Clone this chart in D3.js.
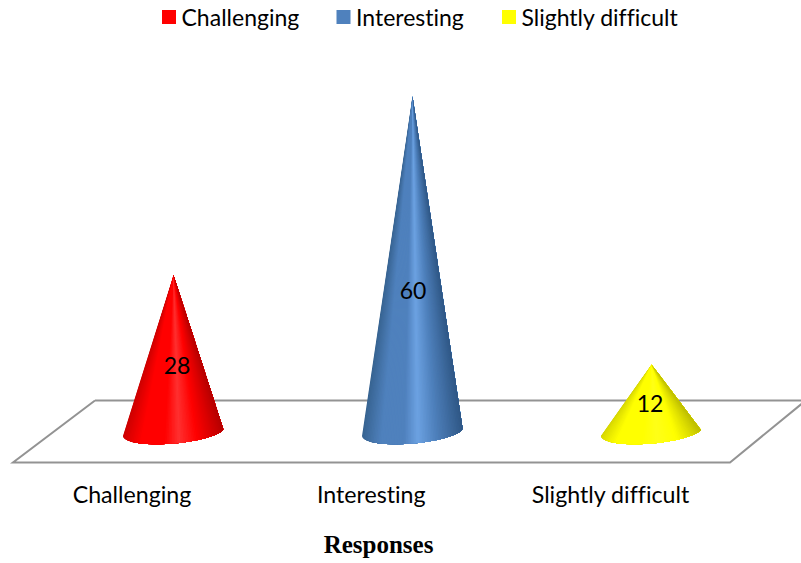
<!DOCTYPE html>
<html>
<head>
<meta charset="utf-8">
<script src="https://cdn.jsdelivr.net/npm/d3@7/dist/d3.min.js"></script>
<style>
  html, body { margin: 0; padding: 0; background: #fff; }
  svg { display: block; }
  text { font-family: Lato, "Open Sans", sans-serif; fill: #000; font-variant-ligatures: none; }
</style>
</head>
<body>
<svg id="chart" width="801" height="563"></svg>
<script>
// Survey responses shown as 3D-style cones on a tilted floor
const categories = ["Challenging", "Interesting", "Slightly difficult"];
const values = [28, 60, 12];
const baseColors = ["#ff0000", "#4f81bd", "#ffff00"];
const leftEdgeColors = ["#c80000", "#36628f", "#cfcf00"];
const rightEdgeColors = ["#b40000", "#2f5785", "#bcbc00"];
const shineColors = ["#ff3030", "#6ca2e2", "#ffff18"];
const axisTitle = "Responses";

const svg = d3.select("#chart");

// Scales: cones sit on one point scale, labels on a second one shifted along the floor
const x = d3.scalePoint().domain(categories).range([173.5, 651.5]);
const labelX = d3.scalePoint().domain(categories).range([131.5, 610]);
const y = d3.scaleLinear().domain([0, 60]).range([431.5, 96]);

const coneHalfWidth = 50.5;
const baseTilt = 4.5;      // vertical offset between base centre and its rim ends
const baseRy = 12;

// Floor parallelogram, back edge and side edge run past the canvas on the right
const floor = d3.path();
floor.moveTo(95, 400.5);
floor.lineTo(810, 400.5);
floor.moveTo(95, 400.5);
floor.lineTo(13, 462.5);
floor.lineTo(730, 462.5);
floor.lineTo(810, 397);
svg.append("path")
  .attr("d", floor.toString())
  .attr("fill", "none")
  .attr("stroke", "#939393")
  .attr("stroke-width", 2);

// Cone outline: apex, down to the left rim, round the tilted base, back to the apex
const conePath = (c, v) => {
  const cx = x(c);
  const cy = y(0);
  return `M${cx},${y(v)}` +
    `L${cx - coneHalfWidth},${cy + baseTilt}` +
    `A${coneHalfWidth},${baseRy} -5 0 0 ${cx + coneHalfWidth},${cy - baseTilt}Z`;
};

const defs = svg.append("defs");
categories.forEach((c, i) => {
  defs.append("clipPath").attr("id", "cone-clip-" + i)
    .append("path").attr("d", conePath(c, values[i]));
});

// Shading fans out from the apex, so dark sides follow the slanted edges.
// Each slice runs to the far side and is painted over by the next, leaving no seams.
const fanSlices = d3.range(64);
const shadeStops = [0, 0.2, 0.42, 0.55, 0.72, 1];
const cones = svg.append("g").selectAll("g")
  .data(categories)
  .join("g")
  .attr("clip-path", (c, i) => `url(#cone-clip-${i})`);

cones.each(function (c, i) {
  const shade = d3.scaleLinear()
    .domain(shadeStops)
    .range([leftEdgeColors[i], baseColors[i], baseColors[i], shineColors[i], baseColors[i], rightEdgeColors[i]])
    .interpolate(d3.interpolateRgb);
  const apexX = x(c);
  const apexY = y(values[i]);
  // Fan reaches below the base; the clip trims it to the cone
  const reach = (y(0) + 20 - apexY) / (y(0) - apexY);
  const rimX = d3.scaleLinear().domain([0, fanSlices.length])
    .range([apexX - coneHalfWidth * reach, apexX + coneHalfWidth * reach]);
  d3.select(this).selectAll("path")
    .data(fanSlices)
    .join("path")
    .attr("d", s => `M${apexX},${apexY}L${rimX(s)},${y(0) + 20}L${rimX(fanSlices.length)},${y(0) + 20}Z`)
    .attr("fill", s => shade((s + 0.5) / fanSlices.length));
});

// Value labels sit a little below the middle of each cone
const labelNudge = [3.5, 0.5, -1.5];
svg.append("g").selectAll("text")
  .data(categories)
  .join("text")
  .attr("x", (c, i) => x(c) + labelNudge[i])
  .attr("y", (c, i) => y(values[i] * 0.42))
  .attr("dy", "0.36em")
  .attr("text-anchor", "middle")
  .attr("font-size", 23)
  .text((c, i) => values[i]);

// Category axis without line or ticks
const axis = svg.append("g")
  .attr("transform", "translate(0,487)")
  .call(d3.axisBottom(labelX).tickSize(0).tickPadding(0));
axis.select(".domain").remove();
axis.selectAll("text")
  .attr("font-size", 23.2)
  .attr("font-family", "Lato, sans-serif")
  .attr("dy", "0.71em");

// Axis title
svg.append("text")
  .attr("x", 378.5)
  .attr("y", 553)
  .attr("text-anchor", "middle")
  .style("font-family", "'Liberation Serif', serif")
  .attr("font-weight", "bold")
  .attr("font-size", 25)
  .text(axisTitle);

// Legend
const legendX = [162, 336.5, 502];
const legend = svg.append("g").selectAll("g")
  .data(categories)
  .join("g")
  .attr("transform", (c, i) => `translate(${legendX[i]},0)`);
legend.append("rect")
  .attr("y", 10).attr("width", 14).attr("height", 14)
  .attr("fill", (c, i) => baseColors[i]);
legend.append("text")
  .attr("x", 19.5).attr("y", 26)
  .attr("font-size", 23)
  .text(c => c);
</script>
</body>
</html>
